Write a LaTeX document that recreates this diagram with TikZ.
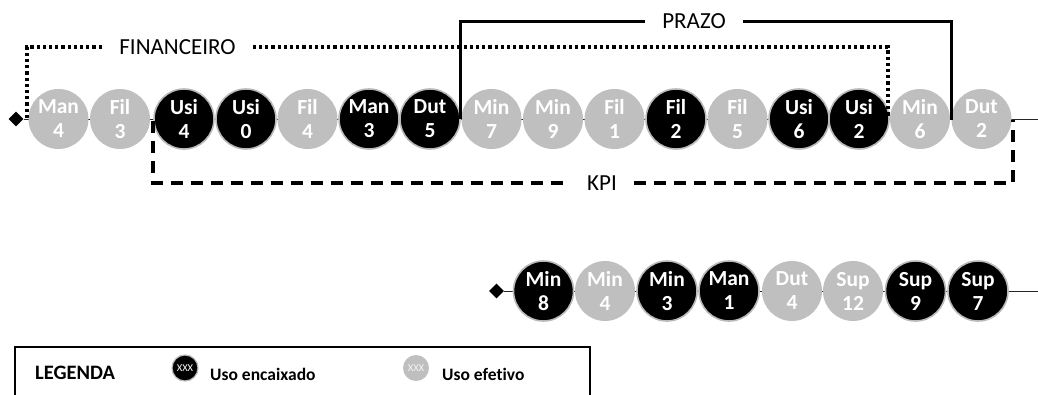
\documentclass[tikz,border=0pt]{standalone}
\usepackage{fontspec}
\setmainfont{Carlito}[Ligatures=NoCommon]
\usetikzlibrary{shapes.geometric}
\definecolor{effgray}{HTML}{BFBFBF}
\begin{document}
\begin{tikzpicture}[x=1pt,y=-1pt,
  stop/.style={circle, minimum size=60pt, inner sep=0pt, align=center,
    font=\fontsize{21.5}{24}\selectfont\bfseries, text=white},
  encx/.style={stop, fill=black, draw=gray!55, line width=1.6pt},
  efet/.style={stop, fill=effgray},
  startmark/.style={diamond, fill=black, inner sep=0pt, minimum size=15pt},
  rowline/.style={draw=black!85, line width=1pt},
  tag/.style={font=\fontsize{23}{25}\selectfont, inner xsep=17pt, inner ysep=1pt},
  finline/.style={line width=3.4pt, dash pattern=on 3.2pt off 3pt},
  prazoline/.style={line width=3pt},
  kpiline/.style={line width=3.4pt, dash pattern=on 12pt off 8pt},
  legcirc/.style={circle, minimum size=26pt, inner sep=0pt,
    font=\fontsize{10.5}{10.5}\selectfont},
  legtext/.style={font=\fontsize{17.5}{20}\selectfont\bfseries, anchor=west, inner sep=0pt}]
\useasboundingbox (0,0) rectangle (1038,394);

% ---- first sequence ----
\node[startmark] (da) at (16,119) {};
\coordinate (ea) at (1038,119);
\draw[rowline] (da) -- (ea);
\foreach \px/\lbl/\num/\kind [count=\i] in {
  58.5/Man/4/efet, 120/Fil/3/efet, 184/Usi/4/encx, 246/Usi/0/encx,
  307.5/Fil/4/efet, 369/Man/3/encx, 430/Dut/5/encx, 491.5/Min/7/efet,
  553/Min/9/efet, 614.5/Fil/1/efet, 676/Fil/2/encx, 737.5/Fil/5/efet,
  799/Usi/6/encx, 859/Usi/2/encx, 920/Min/6/efet, 981.5/Dut/2/efet}
  \node[\kind] (t\i) at (\px,119) {\lbl\\\num};

% FINANCEIRO (dotted)
\node[tag] (fin) at (177.5,47) {FINANCEIRO};
\coordinate (finA) at (27,118);
\coordinate (finB) at (888,118);
\draw[finline] (finA) |- (fin.west);
\draw[finline] (fin.east) -| (finB);

% PRAZO (solid)
\node[tag] (prz) at (694,21) {PRAZO};
\coordinate (przA) at (460,119);
\coordinate (przB) at (951.5,120);
\draw[prazoline] (przA) |- (prz.west);
\draw[prazoline] (prz.east) -| (przB);

% KPI (dashed)
\node[tag] (kpi) at (602,183) {KPI};
\coordinate (kpiA) at (153,121);
\coordinate (kpiB) at (1013,120);
\draw[kpiline] (kpiA) |- (kpi.west);
\draw[kpiline] (kpi.east) -| (kpiB);

% ---- second sequence ----
\node[startmark] (db) at (496.5,291) {};
\coordinate (eb) at (1038,291);
\draw[rowline] (db) -- (eb);
\foreach \px/\lbl/\num/\kind [count=\i] in {
  543.5/Min/8/encx, 605/Min/4/efet, 667/Min/3/encx, 729/Man/1/encx,
  792/Dut/4/efet, 853/Sup/12/efet, 915.5/Sup/9/encx, 978/Sup/7/encx}
  \node[\kind] (b\i) at (\px,291) {\lbl\\\num};

% ---- legend ----
\draw[line width=2.2pt] (15,400) -- (15,347) -- (590,347) -- (590,400);
\node[font=\fontsize{20.5}{22}\selectfont\bfseries, anchor=west, inner sep=0pt] (leg) at (35,373) {LEGENDA};
\node[legcirc, fill=black, draw=gray!55, line width=1.2pt, text=white] (lgA) at (185,368) {XXX};
\node[legtext] (lgAt) at (210,374) {Uso encaixado};
\node[legcirc, fill=effgray, text=white!92!gray] (lgB) at (416,368) {XXX};
\node[legtext] (lgBt) at (442,374) {Uso efetivo};
\end{tikzpicture}
\end{document}
